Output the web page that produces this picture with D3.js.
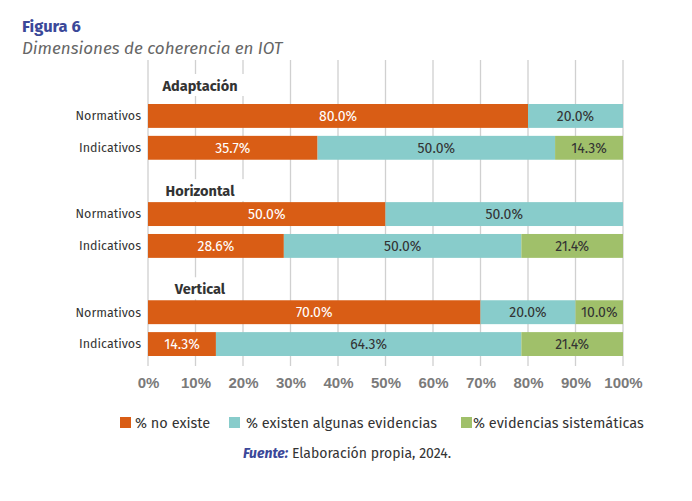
<!DOCTYPE html>
<html>
<head>
<meta charset="utf-8">
<script src="https://cdn.jsdelivr.net/npm/d3@7"></script>
<style>
  body { margin: 0; background: #fff; }
  svg { font-family: "Fira Sans", Lato, "Noto Sans", sans-serif; }
</style>
</head>
<body>
<svg id="chart" width="692" height="501"></svg>
<script>
var groups = ['Adaptación', 'Horizontal', 'Vertical'];
var rows = ['Normativos', 'Indicativos'];
var series = ['% no existe', '% existen algunas evidencias', '% evidencias sistemáticas'];
// valores por grupo y fila: [no existe, algunas, sistematicas]
var noExiste = [[80.0, 35.7], [50.0, 28.6], [70.0, 14.3]];
var algunas = [[20.0, 50.0], [50.0, 50.0], [20.0, 64.3]];
var sistematicas = [[0, 14.3], [0, 21.4], [10.0, 21.4]];
var ticks = [0, 10, 20, 30, 40, 50, 60, 70, 80, 90, 100];
var colors = ['#d95d15', '#88cccb', '#a0c06a'];
var textColors = ['#ffffff', '#333333', '#333333'];

var svg = d3.select('#chart');

var x = d3.scaleLinear().domain([0, 100]).range([148, 623]);
var y0 = d3.scaleBand().domain(groups).range([104, 356]).paddingInner(0.432);
var y1 = d3.scaleBand().domain(rows).range([0, y0.bandwidth()]).paddingInner(0.25);

// titulo
svg.append('text').attr('x', 22).attr('y', 32)
  .attr('font-size', 16.5).attr('font-weight', 700).attr('fill', '#3b4899')
  .text('Figura 6');
svg.append('text').attr('x', 22).attr('y', 54)
  .attr('font-size', 17).attr('font-style', 'italic').attr('fill', '#666')
  .text('Dimensiones de coherencia en IOT');

// rejilla
svg.append('g').selectAll('line').data(ticks).enter().append('line')
  .attr('x1', function(d) { return x(d); })
  .attr('x2', function(d) { return x(d); })
  .attr('y1', 60).attr('y2', 366)
  .attr('stroke', '#d0d0d0').attr('stroke-width', 1.3);

// eje x
var xAxis = svg.append('g')
  .attr('transform', 'translate(0,371)')
  .call(d3.axisBottom(x).tickValues(ticks).tickSize(0).tickPadding(6)
    .tickFormat(function(d) { return d + '%'; }));
xAxis.select('.domain').remove();
xAxis.selectAll('text').attr('font-size', 15).attr('font-weight', 700)
  .attr('fill', '#7a7a7a').attr('font-family', null);

// datos apilados
var table = [];
groups.forEach(function(g, gi) {
  rows.forEach(function(r, ri) {
    var vals = [noExiste[gi][ri], algunas[gi][ri], sistematicas[gi][ri]];
    var acc = 0;
    vals.forEach(function(v, si) {
      table.push({ group: g, row: r, s: si, v: v, x0: acc, x1: acc + v });
      acc += v;
    });
  });
});

var gG = svg.append('g').selectAll('g.grp').data(groups).enter().append('g')
  .attr('class', 'grp')
  .attr('transform', function(d) { return 'translate(0,' + y0(d) + ')'; });

// encabezados de grupo
gG.each(function(g, gi) {
  var sel = d3.select(this);
  var t = sel.append('text').attr('x', 200).attr('y', gi === 0 ? -13 : -6)
    .attr('text-anchor', 'middle').attr('font-size', 14.5).attr('font-weight', 700)
    .attr('fill', '#333').text(g);
  var bb = t.node().getBBox();
  sel.insert('rect', 'text').attr('x', bb.x - 10).attr('y', bb.y - 3)
    .attr('width', bb.width + 20).attr('height', bb.height + 4).attr('fill', '#fff');
  rows.forEach(function(r) {
    sel.append('text').attr('x', 141).attr('y', y1(r) + y1.bandwidth() / 2)
      .attr('dy', '0.35em').attr('text-anchor', 'end').attr('font-size', 12.5)
      .attr('fill', '#333').text(r);
  });
});

gG.each(function(g) {
  var sel = d3.select(this);
  var segs = table.filter(function(d) { return d.group === g && d.v > 0; });
  sel.selectAll('rect.seg').data(segs).enter().append('rect')
    .attr('class', 'seg')
    .attr('x', function(d) { return x(d.x0); })
    .attr('width', function(d) { return x(d.x1) - x(d.x0); })
    .attr('y', function(d) { return y1(d.row); })
    .attr('height', y1.bandwidth())
    .attr('fill', function(d) { return colors[d.s]; });
  sel.selectAll('text.val').data(segs).enter().append('text')
    .attr('class', 'val')
    .attr('x', function(d) { return (x(d.x0) + x(d.x1)) / 2; })
    .attr('y', function(d) { return y1(d.row) + y1.bandwidth() / 2; })
    .attr('dy', '0.36em').attr('text-anchor', 'middle').attr('font-size', 14)
    .attr('fill', function(d) { return textColors[d.s]; })
    .text(function(d) { return d.v.toFixed(1) + '%'; });
});

// leyenda
var legendX = [120, 229, 461];
var legendGap = [15, 17, 12];
var leg = svg.append('g').selectAll('g').data(series).enter().append('g')
  .attr('transform', function(d, i) { return 'translate(' + legendX[i] + ',417)'; });
leg.append('rect').attr('width', 11).attr('height', 11)
  .attr('fill', function(d, i) { return colors[i]; });
leg.append('text').attr('x', function(d, i) { return legendGap[i]; })
  .attr('y', 5.5).attr('dy', '0.35em')
  .attr('font-size', 14.5).attr('fill', '#333').text(function(d) { return d; });

// fuente
var src = svg.append('text').attr('x', 347).attr('y', 458)
  .attr('text-anchor', 'middle').attr('font-size', 14).attr('fill', '#333');
src.append('tspan').attr('font-weight', 700).attr('font-style', 'italic')
  .attr('fill', '#3b4899').text('Fuente:');
src.append('tspan').text(' Elaboración propia, 2024.');
</script>
</body>
</html>
